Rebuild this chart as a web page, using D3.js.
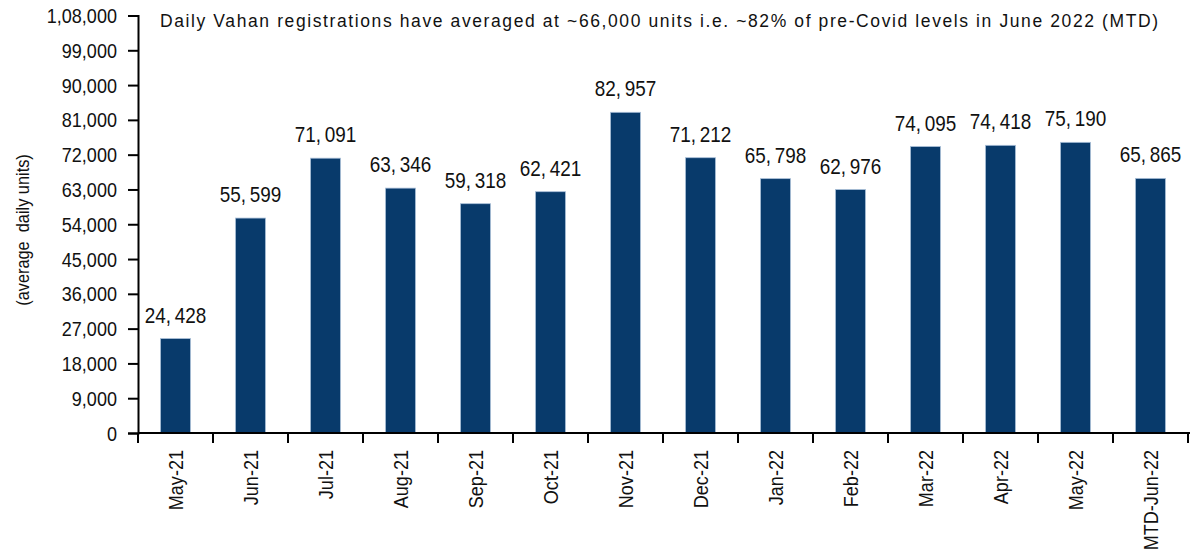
<!DOCTYPE html>
<html>
<head>
<meta charset="utf-8">
<script src="https://cdn.jsdelivr.net/npm/d3@7"></script>
<style>
	body{margin:0;background:#fff;}
	svg{display:block;}
	text{font-family:"Liberation Sans",Arial,sans-serif;}
</style>
</head>
<body>
<script>

var months = ["May-21","Jun-21","Jul-21","Aug-21","Sep-21","Oct-21","Nov-21","Dec-21","Jan-22","Feb-22","Mar-22","Apr-22","May-22","MTD-Jun-22"];
var dailyUnits = [24428,55599,71091,63346,59318,62421,82957,71212,65798,62976,74095,74418,75190,65865];
var yTicks = [0,9000,18000,27000,36000,45000,54000,63000,72000,81000,90000,99000,108000];
var titleText = "Daily Vahan registrations have averaged at ~66,000 units i.e. ~82% of pre-Covid levels in June 2022 (MTD)";
var yLabel = "(average  daily units)";

var width = 1190, height = 550;
var margin = {top:15.5, right:2, bottom:117, left:138};
var squeeze = 0.86; // fake a narrow face, no Arial Narrow here

// indian digit grouping: 1,08,000
function indianFormat(n){
	var s = String(Math.round(n));
	if(s.length <= 3) return s;
	var last3 = s.slice(-3), rest = s.slice(0,-3);
	rest = rest.replace(/\B(?=(\d{2})+(?!\d))/g, ",");
	return rest + "," + last3;
}

var svg = d3.select("body").append("svg")
		.attr("width", width)
		.attr("height", height);

var x = d3.scaleBand()
		.domain(months)
		.range([margin.left, width - margin.right])
		.paddingInner(0.6)
		.paddingOuter(0.3);

var y = d3.scaleLinear()
		.domain([0,108000])
		.range([height - margin.bottom, margin.top]);

// bars
svg.append("g").selectAll("rect").data(dailyUnits)
		.enter().append("rect")
		.attr("x", function(d,i){return x(months[i])})
		.attr("y", function(d){return y(d)})
		.attr("width", x.bandwidth())
		.attr("height", function(d){return y(0) - y(d)})
		.attr("fill", "#083a6b")
		.attr("stroke", "#a9bfd8")
		.attr("stroke-width", 0.8);

// value labels
svg.append("g").selectAll("text").data(dailyUnits)
		.enter().append("text")
		.attr("transform", function(d,i){
			return "translate("+(x(months[i]) + x.bandwidth()/2)+","+(y(d) - 16)+") scale("+squeeze+",1)";
		})
		.attr("text-anchor", "middle")
		.attr("font-size", 22)
		.attr("fill", "#111")
		.text(function(d){return d3.format(",")(d).replace(",", ",\u2009")});

// y axis
var yAxis = svg.append("g")
		.attr("transform","translate("+margin.left+",0)")
		.call(d3.axisLeft(y).tickValues(yTicks).tickSize(10).tickPadding(11).tickFormat(indianFormat));
yAxis.select(".domain").attr("stroke","#000").attr("stroke-width",2);
yAxis.selectAll(".tick line").attr("stroke","#000").attr("stroke-width",2);
yAxis.selectAll(".tick text")
		.attr("x", null).attr("dy", null)
		.attr("transform","translate(-21,7) scale("+squeeze+",1)")
		.attr("font-size",21).attr("fill","#111").attr("font-family",null);

// x axis with ticks at category boundaries
var xAxis = svg.append("g")
		.attr("transform","translate(0,"+y(0)+")");
xAxis.append("line")
		.attr("x1", margin.left).attr("x2", width)
		.attr("stroke","#000").attr("stroke-width",2);
var bounds = d3.range(months.length + 1).map(function(i){return margin.left + i*(width - margin.right - margin.left)/months.length});
xAxis.selectAll("line.tk").data(bounds)
		.enter().append("line")
		.attr("class","tk")
		.attr("x1", function(d){return d}).attr("x2", function(d){return d})
		.attr("y1", 0).attr("y2", 10)
		.attr("stroke","#000").attr("stroke-width",2);
xAxis.selectAll("text").data(months)
		.enter().append("text")
		.attr("transform", function(d){return "translate("+(x(d)+x.bandwidth()/2 + 7)+",17) rotate(-90) scale("+squeeze+",1)"})
		.attr("text-anchor","end")
		.attr("font-size",21)
		.attr("fill","#111")
		.text(function(d){return d});

// y label
svg.append("text")
		.attr("transform","translate(29,230) rotate(-90) scale("+squeeze+",1)")
		.attr("text-anchor","middle")
		.attr("font-size",19)
		.attr("fill","#111")
		.style("white-space","pre")
		.text(yLabel);

// title
svg.append("text")
		.attr("x", 160)
		.attr("y", 27)
		.attr("font-family","'Open Sans',sans-serif")
		.attr("font-size",17.5)
		.attr("fill","#111")
		.attr("textLength", 998)
		.attr("lengthAdjust","spacing")
		.text(titleText);

</script>
</body>
</html>
